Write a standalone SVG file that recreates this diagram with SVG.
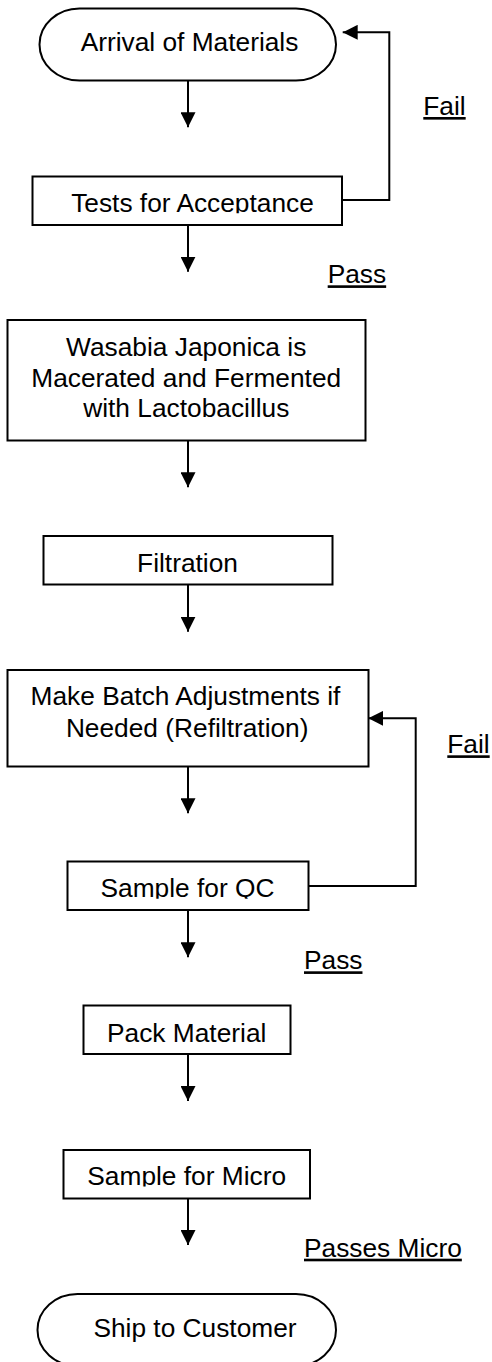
<svg xmlns="http://www.w3.org/2000/svg" width="492" height="1362" viewBox="0 0 492 1362">
<style>
.shape{fill:#fff;stroke:#000;stroke-width:2}
.t{font-family:"Liberation Sans",Arial,sans-serif;font-size:26.3px;fill:#000;text-anchor:middle}
.lbl{font-family:"Liberation Sans",Arial,sans-serif;font-size:26.3px;fill:#000;text-decoration:underline}
.c{fill:none;stroke:#000;stroke-width:2}
</style>
<defs>
<marker id="ah" markerUnits="userSpaceOnUse" markerWidth="15" markerHeight="15" viewBox="0 0 15 15" refX="15" refY="7.5" orient="auto">
<path d="M0,0 L15,7.5 L0,15 z" fill="#000"/>
</marker>
<clipPath id="clipTests"><rect x="0" y="170" width="492" height="43.3"/></clipPath>
<clipPath id="clipQC"><rect x="0" y="855" width="492" height="43.8"/></clipPath>
<clipPath id="clipMicro"><rect x="0" y="1140" width="492" height="46.5"/></clipPath>
</defs>
<rect width="492" height="1362" fill="#fff"/>
<g id="connectors">
<line class="c" x1="188" y1="80.7" x2="188" y2="127.3" marker-end="url(#ah)"/>
<line class="c" x1="188" y1="225" x2="188" y2="271.7" marker-end="url(#ah)"/>
<line class="c" x1="188" y1="440.7" x2="188" y2="487.3" marker-end="url(#ah)"/>
<line class="c" x1="188" y1="584.7" x2="188" y2="631.7" marker-end="url(#ah)"/>
<line class="c" x1="188" y1="766.7" x2="188" y2="813.3" marker-end="url(#ah)"/>
<line class="c" x1="188" y1="910" x2="188" y2="957.3" marker-end="url(#ah)"/>
<line class="c" x1="188" y1="1054" x2="188" y2="1101" marker-end="url(#ah)"/>
<line class="c" x1="188" y1="1198.3" x2="188" y2="1245" marker-end="url(#ah)"/>
<polyline class="c" points="342,200 389.3,200 389.3,32.3 342.7,32.3" marker-end="url(#ah)"/>
<polyline class="c" points="308.3,886 415.7,886 415.7,718.3 368.3,718.3" marker-end="url(#ah)"/>
<text class="lbl" x="423.3" y="115">Fail</text>
<text class="lbl" x="327.7" y="283.3">Pass</text>
<text class="lbl" x="447.3" y="753.3">Fail</text>
<text class="lbl" x="304" y="969.3">Pass</text>
<text class="lbl" x="304" y="1256.7">Passes Micro</text>
</g>
<g id="arrival">
<rect class="shape" x="39.5" y="8.5" width="296.5" height="72" rx="40" ry="36"/>
<text class="t" x="189.5" y="50.7">Arrival of Materials</text>
</g>
<g id="tests">
<rect class="shape" x="32.5" y="176.5" width="309.5" height="48.5"/>
<text class="t" x="192.5" y="211.7" clip-path="url(#clipTests)">Tests for Acceptance</text>
</g>
<g id="wasabia">
<rect class="shape" x="7.5" y="320" width="358" height="120.5"/>
<text class="t" x="186.2" y="356">Wasabia Japonica is</text>
<text class="t" x="186.2" y="387.3">Macerated and Fermented</text>
<text class="t" x="186.3" y="417.3">with Lactobacillus</text>
</g>
<g id="filtration">
<rect class="shape" x="43.5" y="536" width="289" height="48.5"/>
<text class="t" x="187.5" y="571.7">Filtration</text>
</g>
<g id="batch">
<rect class="shape" x="7.5" y="670" width="361" height="96.5"/>
<text class="t" x="185.5" y="705">Make Batch Adjustments if</text>
<text class="t" x="187.2" y="736.7">Needed (Refiltration)</text>
</g>
<g id="sampleqc">
<rect class="shape" x="67.5" y="861.5" width="241" height="48.5"/>
<text class="t" x="187.5" y="897.3" clip-path="url(#clipQC)">Sample for QC</text>
</g>
<g id="pack">
<rect class="shape" x="83.5" y="1005.5" width="207" height="48.5"/>
<text class="t" x="186.7" y="1041.7">Pack Material</text>
</g>
<g id="samplemicro">
<rect class="shape" x="63.5" y="1150" width="246.5" height="48.5"/>
<text class="t" x="186.7" y="1185" clip-path="url(#clipMicro)">Sample for Micro</text>
</g>
<g id="ship">
<rect class="shape" x="37.5" y="1294" width="298.5" height="72" rx="40" ry="36"/>
<text class="t" x="195" y="1336.7">Ship to Customer</text>
</g>
</svg>
